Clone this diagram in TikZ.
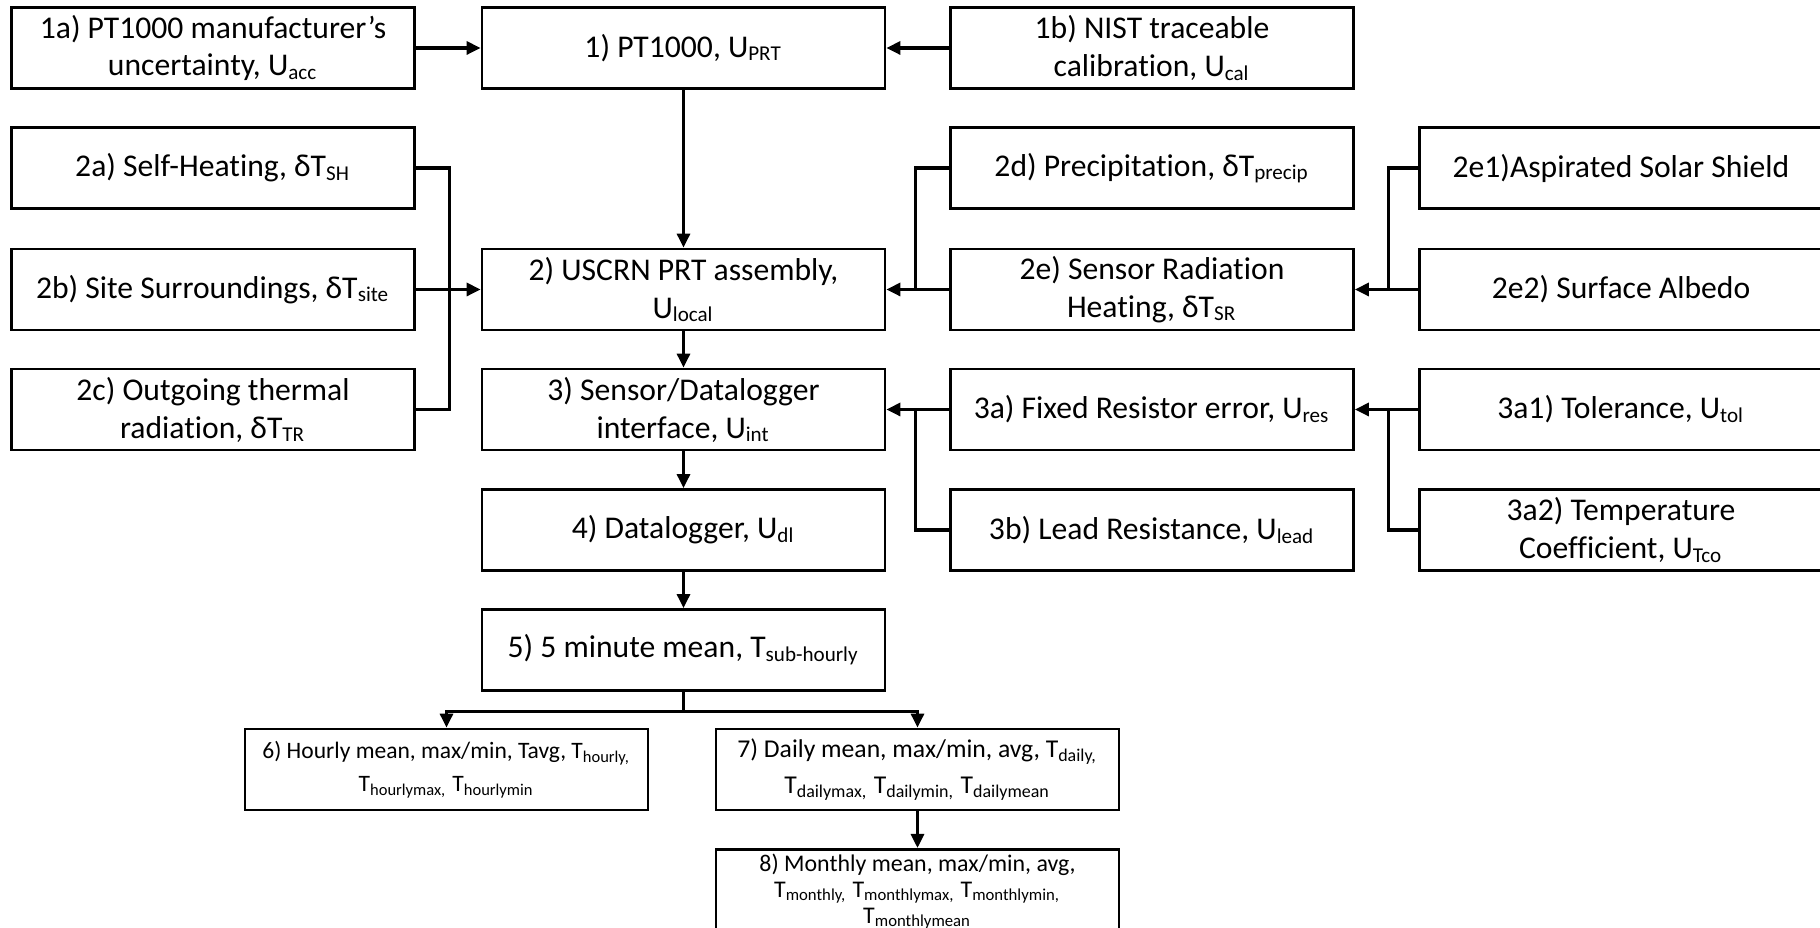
\documentclass[tikz,border=0pt]{standalone}
\usepackage{fontspec}
\setmainfont{Carlito}[Ligatures=NoCommon]
\usetikzlibrary{arrows.meta}
\tikzset{
  blk/.style={draw, line width=0.8pt, minimum width=4.03cm, minimum height=0.81cm, inner sep=1pt, align=center, font=\fontsize{9}{10.8}\selectfont},
  lnk/.style={line width=0.9pt},
  arr/.style={lnk, -{Triangle[length=0.14cm,width=0.13cm]}}
}
\begin{document}
\begin{tikzpicture}
	\useasboundingbox (0,0) rectangle (18.2,-9.28);
	\clip (0,0) rectangle (18.2,-9.28);
	\fill [white] (0,0) rectangle (18.2,-9.28);
	% sensor and its calibration
	\node [blk] (acc) at (2.13,-0.48) {1a) PT1000 manufacturer’s\\uncertainty, U\textsubscript{acc}};
	\node [blk] (prt) at (6.835,-0.48) {1) PT1000, U\textsubscript{PRT}};
	\node [blk] (cal) at (11.52,-0.48) {1b) NIST traceable\\calibration, U\textsubscript{cal}};
	% assembly
	\node [blk] (sh) at (2.13,-1.68) {2a) Self-Heating, δT\textsubscript{SH}};
	\node [blk] (site) at (2.13,-2.895) {2b) Site Surroundings, δT\textsubscript{site}};
	\node [blk] (tr) at (2.13,-4.095) {2c) Outgoing thermal\\radiation, δT\textsubscript{TR}};
	\node [blk] (local) at (6.835,-2.895) {2) USCRN PRT assembly,\\U\textsubscript{local}};
	\node [blk] (precip) at (11.52,-1.68) {2d) Precipitation, δT\textsubscript{precip}};
	\node [blk] (srh) at (11.52,-2.895) {2e) Sensor Radiation\\Heating, δT\textsubscript{SR}};
	\node [blk] (shield) at (16.21,-1.68) {2e1)Aspirated Solar Shield};
	\node [blk] (albedo) at (16.21,-2.895) {2e2) Surface Albedo};
	% interface
	\node [blk] (int) at (6.835,-4.095) {3) Sensor/Datalogger\\interface, U\textsubscript{int}};
	\node [blk] (res) at (11.52,-4.095) {3a) Fixed Resistor error, U\textsubscript{res}};
	\node [blk] (lead) at (11.52,-5.30) {3b) Lead Resistance, U\textsubscript{lead}};
	\node [blk] (tol) at (16.21,-4.095) {3a1) Tolerance, U\textsubscript{tol}};
	\node [blk] (tco) at (16.21,-5.30) {3a2) Temperature\\Coefficient, U\textsubscript{Tco}};
	% logging and means
	\node [blk] (dl) at (6.835,-5.30) {4) Datalogger, U\textsubscript{dl}};
	\node [blk] (fivemin) at (6.835,-6.50) {5) 5 minute mean, T\textsubscript{sub-hourly}};
	\node [blk, font=\fontsize{6.7}{9.4}\selectfont] (hourly) at (4.465,-7.695) {6) Hourly mean, max/min, Tavg, T\textsubscript{hourly,}\\T\textsubscript{hourlymax,} T\textsubscript{hourlymin}};
	\node [blk, font=\fontsize{7.3}{10.3}\selectfont] (daily) at (9.175,-7.695) {7) Daily mean, max/min, avg, T\textsubscript{daily,}\\T\textsubscript{dailymax,} T\textsubscript{dailymin,} T\textsubscript{dailymean}};
	\node [blk, anchor=north, inner ysep=1.2pt, font=\fontsize{6.8}{7.4}\selectfont] (monthly) at (9.175,-8.48) {8) Monthly mean, max/min, avg,\\T\textsubscript{monthly,} T\textsubscript{monthlymax,} T\textsubscript{monthlymin,}\\T\textsubscript{monthlymean}};
	% connectors
	\draw [arr] (acc) -- (prt);
	\draw [arr] (cal) -- (prt);
	\draw [arr] (prt) -- (local);
	\draw [lnk] (sh.east) -- ++(0.335,0) |- (tr.east);
	\draw [arr] (site) -- (local);
	\draw [lnk] (precip.west) -- ++(-0.335,0) |- (srh.west);
	\draw [arr] (srh) -- (local);
	\draw [lnk] (shield.west) -- ++(-0.30,0) |- (albedo.west);
	\draw [arr] (albedo) -- (srh);
	\draw [arr] (local) -- (int);
	\draw [arr] (res) -- (int);
	\draw [lnk] (lead.west) -- ++(-0.335,0) |- (res.west);
	\draw [arr] (tol) -- (res);
	\draw [lnk] (tco.west) -- ++(-0.30,0) |- (tol.west);
	\draw [arr] (int) -- (dl);
	\draw [arr] (dl) -- (fivemin);
	\draw [lnk] (fivemin.south) -- ++(0,-0.2) coordinate (split);
	\draw [arr] (split) -| (hourly.north);
	\draw [arr] (split) -| (daily.north);
	\draw [arr] (daily) -- (monthly);
\end{tikzpicture}
\end{document}
